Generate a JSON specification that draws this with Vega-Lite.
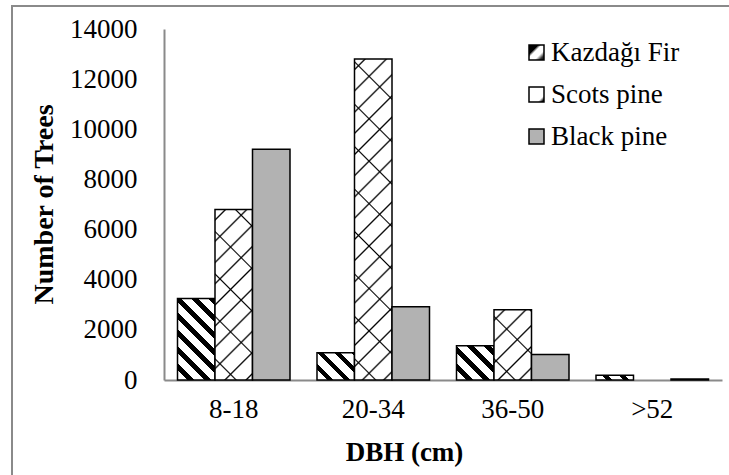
{
  "$schema": "https://vega.github.io/schema/vega-lite/v6.json",
  "width": 727,
  "height": 479,
  "autosize": {"type": "none"},
  "padding": {"left": 12, "top": 6, "right": -10, "bottom": -10},
  "background": "#ffffff",
  "config": {
    "font": "Liberation Serif",
    "view": {"stroke": "#8a8a8a", "strokeWidth": 2},
    "axis": {"labelFont": "Liberation Serif", "titleFont": "Liberation Serif"},
    "legend": {"labelFont": "Liberation Serif", "titleFont": "Liberation Serif"}
  },
  "data": {
    "values": [
      {"dbh": "8-18", "species": "Kazdağı Fir", "trees": 3250},
      {"dbh": "8-18", "species": "Scots pine", "trees": 6800},
      {"dbh": "8-18", "species": "Black pine", "trees": 9200},
      {"dbh": "20-34", "species": "Kazdağı Fir", "trees": 1090},
      {"dbh": "20-34", "species": "Scots pine", "trees": 12800},
      {"dbh": "20-34", "species": "Black pine", "trees": 2920},
      {"dbh": "36-50", "species": "Kazdağı Fir", "trees": 1370},
      {"dbh": "36-50", "species": "Scots pine", "trees": 2800},
      {"dbh": "36-50", "species": "Black pine", "trees": 1020},
      {"dbh": ">52", "species": "Kazdağı Fir", "trees": 190},
      {"dbh": ">52", "species": "Scots pine", "trees": 0},
      {"dbh": ">52", "species": "Black pine", "trees": 40}
    ]
  },
  "encoding": {
    "x": {
      "field": "dbh",
      "type": "nominal",
      "sort": ["8-18", "20-34", "36-50", ">52"],
      "scale": {"range": [152, 710], "paddingInner": 0.1935, "paddingOuter": 0.09675},
      "axis": {
        "title": "DBH (cm)",
        "offset": -105,
        "labelAngle": 0,
        "labelFont": "Liberation Serif",
        "labelFontSize": 27,
        "labelColor": "#000000",
        "labelPadding": 16,
        "ticks": false,
        "tickSize": 0,
        "domainColor": "#8a8a8a",
        "domainWidth": 2,
        "titleFont": "Liberation Serif",
        "titleFontSize": 27,
        "titleFontWeight": "bold",
        "titleColor": "#000000",
        "titleX": 392,
        "titleY": 80,
        "titleAlign": "center",
        "titleBaseline": "alphabetic"
      }
    },
    "xOffset": {
      "field": "species",
      "type": "nominal",
      "scale": {"domain": ["Kazdağı Fir", "Scots pine", "Black pine"], "paddingInner": 0, "paddingOuter": 0}
    },
    "y": {
      "field": "trees",
      "type": "quantitative",
      "scale": {"domain": [0, 14000], "range": [374, 23], "nice": false},
      "axis": {
        "title": "Number of Trees",
        "offset": -152,
        "values": [0, 2000, 4000, 6000, 8000, 10000, 12000, 14000],
        "format": "d",
        "grid": false,
        "ticks": false,
        "tickSize": 0,
        "labelFont": "Liberation Serif",
        "labelFontSize": 27,
        "labelColor": "#000000",
        "labelPadding": 27,
        "domainColor": "#8a8a8a",
        "domainWidth": 2,
        "titleFont": "Liberation Serif",
        "titleFontSize": 28,
        "titleFontWeight": "bold",
        "titleColor": "#000000",
        "titleAngle": 270,
        "titleX": -112,
        "titleY": 198,
        "titleAlign": "center",
        "titleBaseline": "alphabetic"
      }
    }
  },
  "layer": [
    {
      "mark": {"type": "bar", "stroke": "#000000"},
      "encoding": {
        "strokeWidth": {"condition": {"test": "datum.trees === 0", "value": 0}, "value": 1.5},
        "fill": {
          "field": "species",
          "type": "nominal",
          "scale": {
            "domain": ["Kazdağı Fir", "Scots pine", "Black pine"],
            "range": [
              {"expr": "{gradient: 'linear', x1: 0, y1: 0, x2: 1, y2: 1, stops: [{offset: 0, color: '#000000'}, {offset: 0.3, color: '#000000'}, {offset: 0.42, color: '#ffffff'}, {offset: 0.68, color: '#ffffff'}, {offset: 0.85, color: '#333333'}, {offset: 1, color: '#000000'}]}"},
              {"expr": "{gradient: 'linear', x1: 0, y1: 0, x2: 1, y2: 1, stops: [{offset: 0, color: '#ffffff'}, {offset: 0.78, color: '#ffffff'}, {offset: 0.93, color: '#000000'}, {offset: 1, color: '#000000'}]}"},
              "#b2b2b2"
            ]
          },
          "legend": {
            "title": null,
            "orient": "none",
            "legendX": 511,
            "legendY": 33,
            "padding": 0,
            "symbolType": "square",
            "symbolSize": 225,
            "symbolOpacity": 1,
            "labelFont": "Liberation Serif",
            "labelFontSize": 27,
            "labelColor": "#000000",
            "labelOffset": 1,
            "rowPadding": 14,
            "labelLimit": 300,
            "encode": {
              "symbols": {
                "stroke": {"value": "#000000"},
                "strokeWidth": {"value": 1.5}
              }
            }
          },
          "condition": [
            {"test": "datum.species === 'Kazdağı Fir' && datum.dbh === '8-18'", "value":
              {"gradient": "linear", "x1": 0, "y1": 1, "x2": 0.5546, "y2": -0.205, "stops": [
                {"offset": 0, "color": "#ffffff"},
                {"offset": 0.0856, "color": "#ffffff"}, {"offset": 0.0856, "color": "#000000"}, {"offset": 0.1426, "color": "#000000"}, {"offset": 0.1426, "color": "#ffffff"},
                {"offset": 0.2282, "color": "#ffffff"}, {"offset": 0.2282, "color": "#000000"}, {"offset": 0.2853, "color": "#000000"}, {"offset": 0.2853, "color": "#ffffff"},
                {"offset": 0.3709, "color": "#ffffff"}, {"offset": 0.3709, "color": "#000000"}, {"offset": 0.4279, "color": "#000000"}, {"offset": 0.4279, "color": "#ffffff"},
                {"offset": 0.5135, "color": "#ffffff"}, {"offset": 0.5135, "color": "#000000"}, {"offset": 0.5706, "color": "#000000"}, {"offset": 0.5706, "color": "#ffffff"},
                {"offset": 0.6562, "color": "#ffffff"}, {"offset": 0.6562, "color": "#000000"}, {"offset": 0.7132, "color": "#000000"}, {"offset": 0.7132, "color": "#ffffff"},
                {"offset": 0.7988, "color": "#ffffff"}, {"offset": 0.7988, "color": "#000000"}, {"offset": 0.8558, "color": "#000000"}, {"offset": 0.8558, "color": "#ffffff"},
                {"offset": 0.9414, "color": "#ffffff"}, {"offset": 0.9414, "color": "#000000"}, {"offset": 0.9985, "color": "#000000"}, {"offset": 0.9985, "color": "#ffffff"},
                {"offset": 1, "color": "#ffffff"}]}},
            {"test": "datum.species === 'Kazdağı Fir' && datum.dbh === '20-34'", "value":
              {"gradient": "linear", "x1": 0, "y1": 1, "x2": 1.1291, "y2": 0.1771, "stops": [
                {"offset": 0, "color": "#ffffff"},
                {"offset": 0.1571, "color": "#ffffff"}, {"offset": 0.1571, "color": "#000000"}, {"offset": 0.2618, "color": "#000000"}, {"offset": 0.2618, "color": "#ffffff"},
                {"offset": 0.4189, "color": "#ffffff"}, {"offset": 0.4189, "color": "#000000"}, {"offset": 0.5236, "color": "#000000"}, {"offset": 0.5236, "color": "#ffffff"},
                {"offset": 0.6806, "color": "#ffffff"}, {"offset": 0.6806, "color": "#000000"}, {"offset": 0.7853, "color": "#000000"}, {"offset": 0.7853, "color": "#ffffff"},
                {"offset": 0.9424, "color": "#ffffff"}, {"offset": 0.9424, "color": "#000000"}, {"offset": 1, "color": "#000000"}]}},
            {"test": "datum.species === 'Kazdağı Fir' && datum.dbh === '36-50'", "value":
              {"gradient": "linear", "x1": 0, "y1": 1, "x2": 1.0418, "y2": 0.0457, "stops": [
                {"offset": 0, "color": "#ffffff"},
                {"offset": 0.1417, "color": "#ffffff"}, {"offset": 0.1417, "color": "#000000"}, {"offset": 0.2362, "color": "#000000"}, {"offset": 0.2362, "color": "#ffffff"},
                {"offset": 0.3779, "color": "#ffffff"}, {"offset": 0.3779, "color": "#000000"}, {"offset": 0.4724, "color": "#000000"}, {"offset": 0.4724, "color": "#ffffff"},
                {"offset": 0.614, "color": "#ffffff"}, {"offset": 0.614, "color": "#000000"}, {"offset": 0.7086, "color": "#000000"}, {"offset": 0.7086, "color": "#ffffff"},
                {"offset": 0.8502, "color": "#ffffff"}, {"offset": 0.8502, "color": "#000000"}, {"offset": 0.9447, "color": "#000000"}, {"offset": 0.9447, "color": "#ffffff"},
                {"offset": 1, "color": "#ffffff"}]}},
            {"test": "datum.species === 'Kazdağı Fir' && datum.dbh === '>52'", "value":
              {"gradient": "linear", "x1": 0, "y1": 1, "x2": 1.1091, "y2": 0.8592, "stops": [
                {"offset": 0, "color": "#ffffff"},
                {"offset": 0.241, "color": "#ffffff"}, {"offset": 0.241, "color": "#000000"}, {"offset": 0.4016, "color": "#000000"}, {"offset": 0.4016, "color": "#ffffff"},
                {"offset": 0.6426, "color": "#ffffff"}, {"offset": 0.6426, "color": "#000000"}, {"offset": 0.8032, "color": "#000000"}, {"offset": 0.8032, "color": "#ffffff"},
                {"offset": 1, "color": "#ffffff"}]}},
            {"test": "datum.species === 'Scots pine' && datum.dbh === '8-18'", "value":
              {"gradient": "linear", "x1": 0, "y1": 0, "x2": 0.25597, "y2": 1.16366, "stops": [
                {"offset": 0, "color": "#ffffff"},
                {"offset": 0.0422, "color": "#ffffff"}, {"offset": 0.051, "color": "#000000"}, {"offset": 0.0598, "color": "#ffffff"},
                {"offset": 0.1442, "color": "#ffffff"}, {"offset": 0.153, "color": "#000000"}, {"offset": 0.1618, "color": "#ffffff"},
                {"offset": 0.2462, "color": "#ffffff"}, {"offset": 0.255, "color": "#000000"}, {"offset": 0.2638, "color": "#ffffff"},
                {"offset": 0.3482, "color": "#ffffff"}, {"offset": 0.357, "color": "#000000"}, {"offset": 0.3658, "color": "#ffffff"},
                {"offset": 0.4502, "color": "#ffffff"}, {"offset": 0.459, "color": "#000000"}, {"offset": 0.4678, "color": "#ffffff"},
                {"offset": 0.5522, "color": "#ffffff"}, {"offset": 0.561, "color": "#000000"}, {"offset": 0.5698, "color": "#ffffff"},
                {"offset": 0.6541, "color": "#ffffff"}, {"offset": 0.6629, "color": "#000000"}, {"offset": 0.6717, "color": "#ffffff"},
                {"offset": 0.7561, "color": "#ffffff"}, {"offset": 0.7649, "color": "#000000"}, {"offset": 0.7737, "color": "#ffffff"},
                {"offset": 0.8581, "color": "#ffffff"}, {"offset": 0.8669, "color": "#000000"}, {"offset": 0.8757, "color": "#ffffff"},
                {"offset": 0.9601, "color": "#ffffff"}, {"offset": 0.9689, "color": "#000000"}, {"offset": 0.9777, "color": "#ffffff"},
                {"offset": 1, "color": "#ffffff"}]}},
            {"test": "datum.species === 'Scots pine' && datum.dbh === '20-34'", "value":
              {"gradient": "linear", "x1": 0, "y1": 0, "x2": 0.12875, "y2": 1.10182, "stops": [
                {"offset": 0, "color": "#ffffff"},
                {"offset": 0.0245, "color": "#ffffff"}, {"offset": 0.0296, "color": "#000000"}, {"offset": 0.0347, "color": "#ffffff"},
                {"offset": 0.0837, "color": "#ffffff"}, {"offset": 0.0888, "color": "#000000"}, {"offset": 0.0939, "color": "#ffffff"},
                {"offset": 0.1429, "color": "#ffffff"}, {"offset": 0.148, "color": "#000000"}, {"offset": 0.1531, "color": "#ffffff"},
                {"offset": 0.2021, "color": "#ffffff"}, {"offset": 0.2072, "color": "#000000"}, {"offset": 0.2123, "color": "#ffffff"},
                {"offset": 0.2613, "color": "#ffffff"}, {"offset": 0.2664, "color": "#000000"}, {"offset": 0.2715, "color": "#ffffff"},
                {"offset": 0.3204, "color": "#ffffff"}, {"offset": 0.3255, "color": "#000000"}, {"offset": 0.3306, "color": "#ffffff"},
                {"offset": 0.3796, "color": "#ffffff"}, {"offset": 0.3847, "color": "#000000"}, {"offset": 0.3898, "color": "#ffffff"},
                {"offset": 0.4388, "color": "#ffffff"}, {"offset": 0.4439, "color": "#000000"}, {"offset": 0.449, "color": "#ffffff"},
                {"offset": 0.498, "color": "#ffffff"}, {"offset": 0.5031, "color": "#000000"}, {"offset": 0.5082, "color": "#ffffff"},
                {"offset": 0.5572, "color": "#ffffff"}, {"offset": 0.5623, "color": "#000000"}, {"offset": 0.5674, "color": "#ffffff"},
                {"offset": 0.6164, "color": "#ffffff"}, {"offset": 0.6215, "color": "#000000"}, {"offset": 0.6266, "color": "#ffffff"},
                {"offset": 0.6756, "color": "#ffffff"}, {"offset": 0.6807, "color": "#000000"}, {"offset": 0.6858, "color": "#ffffff"},
                {"offset": 0.7347, "color": "#ffffff"}, {"offset": 0.7398, "color": "#000000"}, {"offset": 0.7449, "color": "#ffffff"},
                {"offset": 0.7939, "color": "#ffffff"}, {"offset": 0.799, "color": "#000000"}, {"offset": 0.8041, "color": "#ffffff"},
                {"offset": 0.8531, "color": "#ffffff"}, {"offset": 0.8582, "color": "#000000"}, {"offset": 0.8633, "color": "#ffffff"},
                {"offset": 0.9123, "color": "#ffffff"}, {"offset": 0.9174, "color": "#000000"}, {"offset": 0.9225, "color": "#ffffff"},
                {"offset": 0.9715, "color": "#ffffff"}, {"offset": 0.9766, "color": "#000000"}, {"offset": 0.9817, "color": "#ffffff"},
                {"offset": 1, "color": "#ffffff"}]}},
            {"test": "datum.species === 'Scots pine' && datum.dbh === '36-50'", "value":
              {"gradient": "linear", "x1": 0, "y1": 0, "x2": 0.63761, "y2": 1.19361, "stops": [
                {"offset": 0, "color": "#ffffff"},
                {"offset": 0.0814, "color": "#ffffff"}, {"offset": 0.0985, "color": "#000000"}, {"offset": 0.1156, "color": "#ffffff"},
                {"offset": 0.2783, "color": "#ffffff"}, {"offset": 0.2954, "color": "#000000"}, {"offset": 0.3125, "color": "#ffffff"},
                {"offset": 0.4753, "color": "#ffffff"}, {"offset": 0.4924, "color": "#000000"}, {"offset": 0.5095, "color": "#ffffff"},
                {"offset": 0.6723, "color": "#ffffff"}, {"offset": 0.6894, "color": "#000000"}, {"offset": 0.7065, "color": "#ffffff"},
                {"offset": 0.8692, "color": "#ffffff"}, {"offset": 0.8863, "color": "#000000"}, {"offset": 0.9034, "color": "#ffffff"},
                {"offset": 1, "color": "#ffffff"}]}}
          ]
        }
      }
    },
    {
      "transform": [{"filter": "datum.species === 'Scots pine' && datum.trees > 0"}],
      "mark": {"type": "bar", "strokeWidth": 0},
      "encoding": {
        "fill": {
          "condition": [
            {"test": "datum.dbh === '8-18'", "value":
              {"gradient": "linear", "x1": 0, "y1": 1, "x2": 0.25597, "y2": -0.16366, "stops": [
                {"offset": 0, "color": "rgba(0,0,0,0)"},
                {"offset": 0.0945, "color": "rgba(0,0,0,0)"}, {"offset": 0.102, "color": "#000000"}, {"offset": 0.1095, "color": "rgba(0,0,0,0)"},
                {"offset": 0.2985, "color": "rgba(0,0,0,0)"}, {"offset": 0.306, "color": "#000000"}, {"offset": 0.3135, "color": "rgba(0,0,0,0)"},
                {"offset": 0.5025, "color": "rgba(0,0,0,0)"}, {"offset": 0.51, "color": "#000000"}, {"offset": 0.5175, "color": "rgba(0,0,0,0)"},
                {"offset": 0.7065, "color": "rgba(0,0,0,0)"}, {"offset": 0.714, "color": "#000000"}, {"offset": 0.7215, "color": "rgba(0,0,0,0)"},
                {"offset": 0.9105, "color": "rgba(0,0,0,0)"}, {"offset": 0.918, "color": "#000000"}, {"offset": 0.9255, "color": "rgba(0,0,0,0)"},
                {"offset": 1, "color": "rgba(0,0,0,0)"}]}},
            {"test": "datum.dbh === '20-34'", "value":
              {"gradient": "linear", "x1": 0, "y1": 1, "x2": 0.12875, "y2": -0.10182, "stops": [
                {"offset": 0, "color": "rgba(0,0,0,0)"},
                {"offset": 0.0549, "color": "rgba(0,0,0,0)"}, {"offset": 0.0592, "color": "#000000"}, {"offset": 0.0635, "color": "rgba(0,0,0,0)"},
                {"offset": 0.1733, "color": "rgba(0,0,0,0)"}, {"offset": 0.1776, "color": "#000000"}, {"offset": 0.1819, "color": "rgba(0,0,0,0)"},
                {"offset": 0.2916, "color": "rgba(0,0,0,0)"}, {"offset": 0.2959, "color": "#000000"}, {"offset": 0.3002, "color": "rgba(0,0,0,0)"},
                {"offset": 0.41, "color": "rgba(0,0,0,0)"}, {"offset": 0.4143, "color": "#000000"}, {"offset": 0.4186, "color": "rgba(0,0,0,0)"},
                {"offset": 0.5284, "color": "rgba(0,0,0,0)"}, {"offset": 0.5327, "color": "#000000"}, {"offset": 0.537, "color": "rgba(0,0,0,0)"},
                {"offset": 0.6468, "color": "rgba(0,0,0,0)"}, {"offset": 0.6511, "color": "#000000"}, {"offset": 0.6554, "color": "rgba(0,0,0,0)"},
                {"offset": 0.7652, "color": "rgba(0,0,0,0)"}, {"offset": 0.7695, "color": "#000000"}, {"offset": 0.7738, "color": "rgba(0,0,0,0)"},
                {"offset": 0.8835, "color": "rgba(0,0,0,0)"}, {"offset": 0.8878, "color": "#000000"}, {"offset": 0.8921, "color": "rgba(0,0,0,0)"},
                {"offset": 1, "color": "rgba(0,0,0,0)"}]}},
            {"test": "datum.dbh === '36-50'", "value":
              {"gradient": "linear", "x1": 0, "y1": 1, "x2": 0.63761, "y2": -0.19361, "stops": [
                {"offset": 0, "color": "rgba(0,0,0,0)"},
                {"offset": 0.1826, "color": "rgba(0,0,0,0)"}, {"offset": 0.197, "color": "#000000"}, {"offset": 0.2114, "color": "rgba(0,0,0,0)"},
                {"offset": 0.5765, "color": "rgba(0,0,0,0)"}, {"offset": 0.5909, "color": "#000000"}, {"offset": 0.6053, "color": "rgba(0,0,0,0)"},
                {"offset": 0.9704, "color": "rgba(0,0,0,0)"}, {"offset": 0.9848, "color": "#000000"}, {"offset": 0.9992, "color": "rgba(0,0,0,0)"},
                {"offset": 1, "color": "rgba(0,0,0,0)"}]}}
          ],
          "value": "transparent"
        }
      }
    }
  ]
}
